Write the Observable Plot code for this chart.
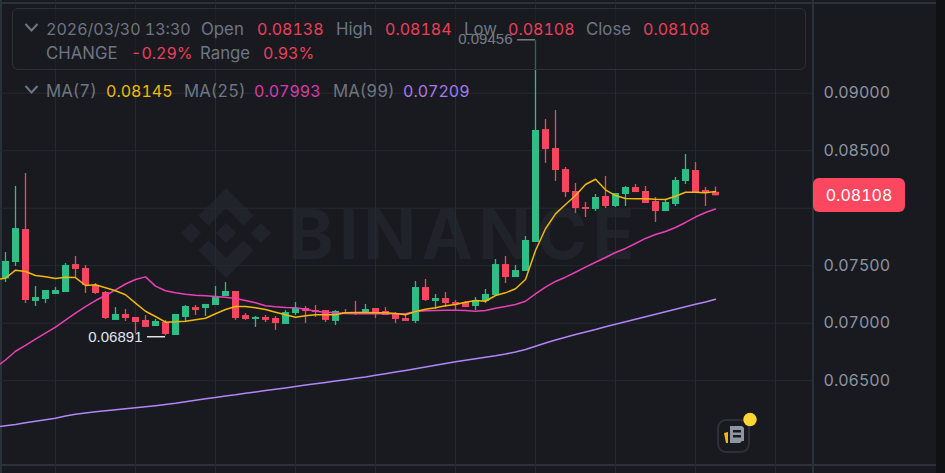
<!DOCTYPE html>
<html>
<head>
<meta charset="utf-8">
<script src="https://cdn.jsdelivr.net/npm/d3@7"></script>
<script src="https://cdn.jsdelivr.net/npm/@observablehq/plot@0.6"></script>
<style>
html,body{margin:0;padding:0;background:#181A20;width:945px;height:473px;overflow:hidden}
#stage{position:relative;width:945px;height:473px;overflow:hidden;font-family:Inter,"Noto Sans",sans-serif;font-variant-numeric:tabular-nums}
#stage>*{position:absolute}
#chart{left:0;top:0}
#chart svg{display:block;background:transparent;font-variant-numeric:tabular-nums}
.t{font-size:16px;line-height:20px;white-space:nowrap;color:#6E7683}
.w{font-size:16.8px}
</style>
</head>
<body>
<div id="stage"></div>
<script>
// 30-minute candles, oldest first
const opens = [0.07386,0.07528,0.07815,0.07189,0.07206,0.07250,0.07267,0.07510,0.07476,0.07328,0.07267,0.07024,0.07076,0.07050,0.07024,0.06971,0.07006,0.06893,0.07050,0.07136,0.07128,0.07154,0.07232,0.07276,0.07067,0.07032,0.07050,0.07041,0.06989,0.07084,0.07128,0.07110,0.07110,0.07015,0.07093,0.07093,0.07093,0.07128,0.07102,0.07084,0.07041,0.07015,0.07310,0.07189,0.07215,0.07180,0.07180,0.07145,0.07189,0.07241,0.07510,0.07397,0.07450,0.07702,0.08684,0.08519,0.08336,0.08145,0.08006,0.07989,0.08102,0.08015,0.08119,0.08180,0.08145,0.08058,0.07971,0.08032,0.08232,0.08328,0.08154,0.08138];
const highs = [0.07615,0.08189,0.08302,0.07319,0.07284,0.07310,0.07519,0.07580,0.07502,0.07345,0.07276,0.07136,0.07119,0.07050,0.07067,0.07032,0.07024,0.07076,0.07154,0.07154,0.07163,0.07319,0.07354,0.07276,0.07084,0.07058,0.07067,0.07058,0.07110,0.07180,0.07145,0.07154,0.07110,0.07110,0.07119,0.07189,0.07163,0.07128,0.07136,0.07093,0.07067,0.07363,0.07380,0.07250,0.07267,0.07197,0.07189,0.07223,0.07293,0.07554,0.07580,0.07502,0.07754,0.09456,0.08771,0.08850,0.08354,0.08215,0.08050,0.08119,0.08276,0.08128,0.08189,0.08206,0.08189,0.08093,0.08076,0.08267,0.08467,0.08397,0.08180,0.08184];
const lows = [0.07354,0.07493,0.07171,0.07145,0.07171,0.07250,0.07267,0.07397,0.07258,0.07250,0.07032,0.07024,0.07015,0.06910,0.06963,0.06971,0.06891,0.06893,0.07006,0.07067,0.07058,0.07154,0.07232,0.07024,0.07024,0.06963,0.07006,0.06937,0.06989,0.07067,0.06997,0.07050,0.07006,0.06980,0.07084,0.07067,0.07084,0.07041,0.07067,0.06997,0.07015,0.06997,0.07189,0.07119,0.07136,0.07110,0.07136,0.07110,0.07171,0.07241,0.07345,0.07397,0.07450,0.07702,0.08389,0.08232,0.08093,0.07954,0.07919,0.07971,0.07997,0.08006,0.08015,0.08136,0.08041,0.07876,0.07971,0.08015,0.08206,0.08136,0.08015,0.08108];
const closes = [0.07537,0.07823,0.07197,0.07223,0.07284,0.07284,0.07502,0.07467,0.07328,0.07258,0.07041,0.07076,0.07041,0.07006,0.06963,0.07015,0.06902,0.07076,0.07145,0.07110,0.07163,0.07223,0.07276,0.07041,0.07032,0.07050,0.07024,0.06997,0.07093,0.07128,0.07102,0.07093,0.07024,0.07102,0.07084,0.07084,0.07119,0.07084,0.07067,0.07032,0.07015,0.07310,0.07197,0.07215,0.07171,0.07163,0.07136,0.07197,0.07250,0.07510,0.07397,0.07458,0.07719,0.08676,0.08510,0.08328,0.08136,0.07997,0.07989,0.08093,0.08015,0.08128,0.08180,0.08136,0.08041,0.07971,0.08050,0.08241,0.08336,0.08136,0.08128,0.08108];

// moving averages begin one candle before the first visible candle
const ma7 = [0.07380,0.07391,0.07461,0.07450,0.07415,0.07403,0.07389,0.07400,0.07397,0.07328,0.07334,0.07308,0.07282,0.07247,0.07174,0.07104,0.07058,0.07009,0.07012,0.07017,0.07030,0.07043,0.07082,0.07119,0.07145,0.07145,0.07134,0.07119,0.07096,0.07073,0.07052,0.07065,0.07073,0.07073,0.07073,0.07090,0.07093,0.07093,0.07090,0.07090,0.07084,0.07073,0.07102,0.07122,0.07134,0.07151,0.07163,0.07183,0.07197,0.07191,0.07241,0.07264,0.07299,0.07380,0.07632,0.07821,0.07951,0.08032,0.08110,0.08206,0.08252,0.08160,0.08110,0.08084,0.08082,0.08082,0.08078,0.08076,0.08104,0.08139,0.08139,0.08134,0.08145];
const ma25 = [0.06615,0.06680,0.06756,0.06808,0.06861,0.06913,0.06965,0.07026,0.07087,0.07145,0.07197,0.07241,0.07289,0.07341,0.07380,0.07403,0.07322,0.07282,0.07264,0.07252,0.07243,0.07238,0.07232,0.07226,0.07215,0.07197,0.07177,0.07151,0.07142,0.07136,0.07134,0.07122,0.07104,0.07096,0.07090,0.07084,0.07082,0.07082,0.07082,0.07082,0.07082,0.07082,0.07102,0.07108,0.07110,0.07113,0.07113,0.07110,0.07104,0.07110,0.07130,0.07145,0.07163,0.07191,0.07255,0.07313,0.07363,0.07400,0.07443,0.07487,0.07530,0.07571,0.07615,0.07650,0.07693,0.07737,0.07771,0.07797,0.07832,0.07876,0.07923,0.07963,0.07993];
const ma99 = [0.06096,0.06108,0.06120,0.06134,0.06147,0.06161,0.06174,0.06193,0.06209,0.06219,0.06229,0.06238,0.06247,0.06256,0.06264,0.06273,0.06283,0.06293,0.06304,0.06317,0.06329,0.06342,0.06354,0.06366,0.06377,0.06390,0.06402,0.06414,0.06425,0.06437,0.06449,0.06462,0.06473,0.06485,0.06497,0.06509,0.06521,0.06533,0.06547,0.06561,0.06575,0.06589,0.06604,0.06620,0.06635,0.06649,0.06664,0.06678,0.06691,0.06704,0.06717,0.06732,0.06749,0.06771,0.06800,0.06828,0.06854,0.06877,0.06902,0.06923,0.06945,0.06969,0.06991,0.07013,0.07035,0.07056,0.07077,0.07099,0.07121,0.07143,0.07164,0.07185,0.07209];

const gridPrices = [0.065, 0.07, 0.075, 0.08, 0.085, 0.09];
const labelPrices = [0.065, 0.07, 0.075, 0.085, 0.09];
const timeGrid = [5, 13, 21, 29, 37, 45, 53, 61, 69, 77];
const extremeHigh = [{i: 53, p: 0.09456, label: "0.09456"}];
const extremeLow = [{i: 16, p: 0.06891, label: "0.06891"}];

const up = "#2EBD85", down = "#F6465D";
const candles = opens.map((o, i) => ({i, o, h: highs[i], l: lows[i], c: closes[i]}));
const colorOf = d => d.c >= d.o ? up : down;
const series = a => a.map((v, k) => ({i: k - 1, v}));
const grid = "#242A31";
const labelFont = {textAnchor: "end", fontSize: 15, fontFamily: "Liberation Sans"};

const chart = Plot.plot({
  width: 945, height: 473,
  marginLeft: 0, marginRight: 133, marginTop: 0, marginBottom: 0,
  style: {background: "transparent", fontFamily: "Inter, 'Noto Sans', sans-serif", fontSize: "16px"},
  x: {type: "linear", domain: [-0.5, 80.7], axis: null},
  y: {type: "linear", domain: [0.05693, 0.098061], axis: null},
  marks: [
    Plot.ruleX(timeGrid, {x: d => d, stroke: grid, strokeWidth: 1}),
    Plot.ruleY(gridPrices, {y: d => d, stroke: grid, strokeWidth: 1}),
    Plot.axisY(labelPrices, {anchor: "right", tickSize: 0, tickPadding: 11, tickFormat: d3.format(".5f"), fill: "#8C94A0", label: null}),
    Plot.ruleX(candles, {x: "i", y1: "l", y2: "h", stroke: colorOf, strokeWidth: 1.3}),
    Plot.ruleX(candles, {x: "i", y1: "o", y2: "c", stroke: colorOf, strokeWidth: 7}),
    Plot.line(series(ma99), {x: "i", y: "v", stroke: "#B385F8", strokeWidth: 1.5, clip: true}),
    Plot.line(series(ma25), {x: "i", y: "v", stroke: "#EB40B5", strokeWidth: 1.5, clip: true}),
    Plot.line(series(ma7), {x: "i", y: "v", stroke: "#F0B90B", strokeWidth: 1.5, clip: true}),
    Plot.ruleY(extremeHigh, {x1: d => d.i - 1.8, x2: "i", y: "p", dy: -1, stroke: "#d8dbe0", strokeWidth: 1.5}),
    Plot.text(extremeHigh, {x: "i", y: "p", text: "label", dx: -23, dy: -2, fill: "#d8dbe0", ...labelFont}),
    Plot.ruleY(extremeLow, {x1: d => d.i - 1.8, x2: "i", y: "p", dy: 1, stroke: "#e2e4e8", strokeWidth: 1.5}),
    Plot.text(extremeLow, {x: "i", y: "p", text: "label", dx: -23, dy: 1, fill: "#e2e4e8", ...labelFont})
  ]
});

const stage = document.getElementById("stage");
const add = html => stage.insertAdjacentHTML("beforeend", html);

// background chrome and watermark, below the chart
add(`<div style="left:0;top:2px;width:936px;height:1.5px;background:#2B3139"></div>`);
add(`<div style="left:0;top:464px;width:936px;height:2px;background:#2B3139"></div>`);
add(`<div style="left:0;top:0;width:1.5px;height:473px;background:#2B3139"></div>`);
add(`<div style="left:812px;top:0;width:1.5px;height:473px;background:#2B3139"></div>`);
add(`<div style="left:936px;top:0;width:9px;height:473px;background:#0F1114"></div>`);
add(`<svg style="left:181px;top:188px" width="90" height="90" viewBox="0 0 126.61 126.61"><path fill="#202329" d="M38.73 53.2l24.59-24.58 24.6 24.6 14.3-14.31L63.32 0 24.42 38.9 38.73 53.2zM0 63.31l14.3-14.31 14.31 14.31-14.31 14.3zM38.73 73.41l24.59 24.59 24.6-24.6 14.31 14.29-38.9 38.91-38.91-38.88-.02-.02zM98 63.31l14.3-14.31 14.31 14.3-14.31 14.32zM77.83 63.3L63.32 48.78 52.59 59.51l-1.24 1.23-2.54 2.54 14.51 14.5 14.51-14.47z"/></svg>`);
add(`<div style="left:288px;top:192px;font:700 69px/84px Inter,sans-serif;letter-spacing:5.3px;color:#202329;white-space:nowrap">BINANCE</div>`);

stage.appendChild(Object.assign(document.createElement("div"), {id: "chart"}));
document.getElementById("chart").appendChild(chart);

// legend box, above the chart
add(`<div style="left:12px;top:8px;width:792px;height:60px;border:1px solid #2B3139;border-radius:6px;background:rgba(24,26,32,.5)"></div>`);
const chev = y => `<svg style="left:24px;top:${y}px" width="15" height="10"><polyline points="1.5,1 7.5,7.5 13.5,1" fill="none" stroke="#6E7683" stroke-width="2"/></svg>`;
add(chev(23)); add(chev(85));
const legend = [
  [46, 29, "2026/03/30 13:30", "", 0], [201, 29, "Open", "", 1], [257, 29, "0.08138", "#EC3F58", 0],
  [336, 29, "High", "", 1], [385, 29, "0.08184", "#EC3F58", 0], [464, 29, "Low", "", 1],
  [508, 29, "0.08108", "#EC3F58", 0], [586, 29, "Close", "", 1], [643, 29, "0.08108", "#EC3F58", 0],
  [46, 53, "CHANGE", "", 1], [131, 53, "-0.29%", "#EC3F58", 0], [200, 53, "Range", "", 1], [263, 53, "0.93%", "#EC3F58", 0],
  [46, 91, "MA(7)", "", 1], [106, 91, "0.08145", "#F0B90B", 0], [184, 91, "MA(25)", "", 1],
  [254, 91, "0.07993", "#D83BAB", 0], [333, 91, "MA(99)", "", 1], [403, 91, "0.07209", "#A87AEA", 0]
];
legend.forEach(([x, y, s, c, w]) => add(`<div class="t${w ? " w" : ""}" style="left:${x}px;top:${y - 10}px${c ? ";color:" + c : ""}">${s}</div>`));

// last price badge
add(`<div style="left:813px;top:178px;width:92px;height:34px;border-radius:6px;background:#FB4860;color:#fff;font:16px/34px Inter,sans-serif;font-variant-numeric:tabular-nums;text-align:center">0.08108</div>`);

// corner icon
add(`<svg style="left:712px;top:408px" width="50" height="50">
<rect x="6" y="12" width="31" height="32" rx="8" fill="#181A20" stroke="#2B3139" stroke-width="2"/>
<path d="M18 18h12l2 2v13h-2l-2 2H18z" fill="#8E96A3"/>
<rect x="21" y="22" width="8" height="2.5" fill="#181A20"/><rect x="21" y="27" width="8" height="2.5" fill="#181A20"/>
<path d="M12 25l4-1v11h-2z" fill="#F0B90B"/>
<circle cx="38" cy="11.5" r="6.7" fill="#FCD535"/></svg>`);
</script>
</body>
</html>
